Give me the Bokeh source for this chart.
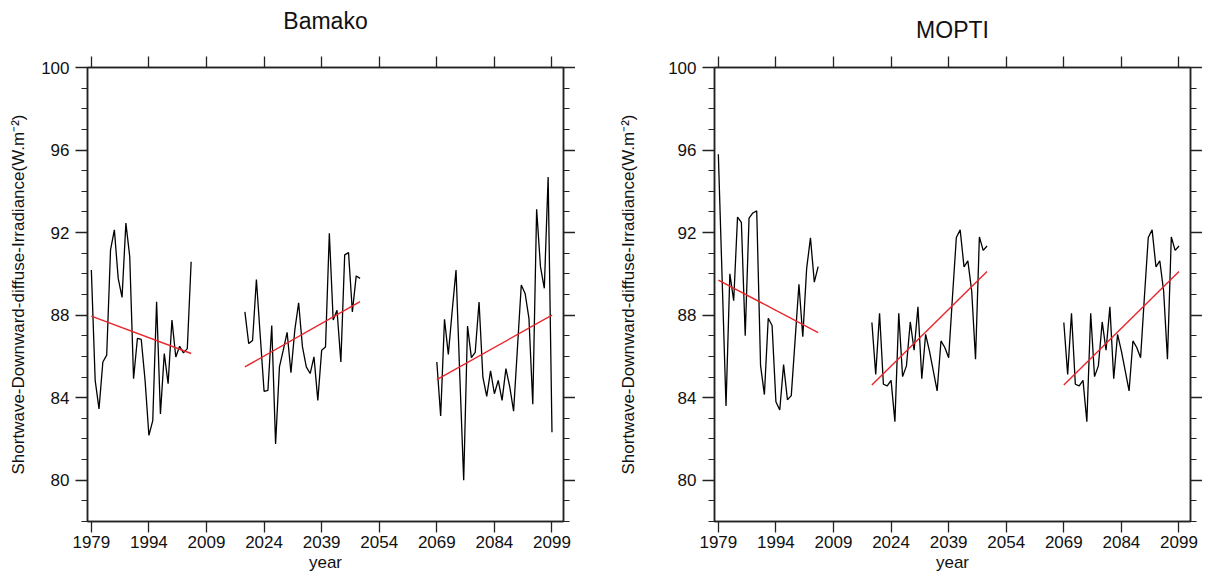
from bokeh.plotting import figure
from bokeh.layouts import row
from bokeh.models import FixedTicker, LinearAxis, Range1d, CustomJSTickFormatter
from bokeh.embed import file_html
from bokeh.resources import INLINE

# ---------------- data ----------------
years_hist = list(range(1979, 2006))
years_mid = list(range(2019, 2050))
years_fut = list(range(2069, 2100))

bamako_hist = [90.19, 84.84, 83.46, 85.73, 86.06, 91.16, 92.13, 89.78, 88.86, 92.46,
               90.84, 84.92, 86.87, 86.82, 84.84, 82.17, 82.89, 88.65, 83.21, 86.14,
               84.68, 87.76, 85.97, 86.49, 86.17, 86.38, 90.59]
bamako_mid = [88.16, 86.62, 86.77, 89.73, 87.0, 84.31, 84.36, 87.5, 81.76, 85.49,
              86.3, 87.17, 85.21, 87.27, 88.6, 86.46, 85.49, 85.17, 85.98, 83.87,
              86.3, 86.46, 91.97, 87.76, 88.24, 85.73, 90.92, 91.03, 88.16, 89.9, 89.78]
bamako_fut = [85.73, 83.11, 87.8, 86.1, 88.2, 90.19, 85.0, 80.0, 87.47, 85.94,
              86.2, 88.64, 85.0, 84.06, 85.3, 84.19, 84.84, 83.87, 85.41, 84.52,
              83.35, 86.4, 89.46, 89.05, 87.84, 83.68, 93.13, 90.35, 89.3, 94.69, 82.33]

mopti_hist = [95.8, 89.7, 83.6, 90.0, 88.7, 92.75, 92.5, 87.0, 92.7, 92.95,
              93.05, 85.55, 84.15, 87.85, 87.5, 83.8, 83.4, 85.6, 83.9, 84.1,
              86.8, 89.5, 86.95, 90.25, 91.75, 89.6, 90.35]
mopti_mid = [87.64, 85.13, 88.09, 84.65, 84.57, 84.84, 82.84, 88.09, 85.02, 85.54,
             87.67, 86.3, 88.4, 84.92, 87.07, 86.26, 85.3, 84.33, 86.75, 86.43,
             85.94, 88.9, 91.76, 92.13, 90.34, 90.63, 89.17, 85.86, 91.79, 91.14, 91.35]
mopti_fut = [87.64, 85.13, 88.09, 84.65, 84.57, 84.84, 82.84, 88.09, 85.02, 85.54,
             87.67, 86.3, 88.4, 84.92, 87.07, 86.26, 85.3, 84.33, 86.75, 86.43,
             85.94, 88.9, 91.76, 92.13, 90.34, 90.63, 89.17, 85.86, 91.79, 91.14, 91.35]

# linear trend end values (first year, last year) of each period
bamako_trend_hist = [87.95, 86.14]
bamako_trend_mid = [85.49, 88.65]
bamako_trend_fut = [84.87, 88.0]
mopti_trend_hist = [89.7, 87.15]
mopti_trend_mid = [84.62, 90.11]
mopti_trend_fut = [84.62, 90.11]

x_ticks = [1979, 1994, 2009, 2024, 2039, 2054, 2069, 2084, 2099]
y_ticks = [80, 84, 88, 92, 96, 100]
y_minor = list(range(78, 101))

titles = ["Bamako", "MOPTI"]
y_label = "Shortwave-Downward-diffuse-Irradiance(W.m\u207b\u00b2)"
x_label = "year"

FONT = "Liberation Sans"
AX = "#222222"
X_MIN, X_MAX, Y_MIN, Y_MAX = 1978, 2102, 78, 100


def style_axis(ax, is_x, labels=True):
    ax.axis_line_color = AX
    ax.axis_line_width = 1.5
    ax.major_tick_line_color = AX
    ax.major_tick_line_width = 1.3
    ax.major_tick_in = 0
    ax.major_tick_out = 11 if is_x else 12
    if is_x:
        ax.minor_tick_line_color = None
        ax.minor_tick_out = 0
    else:
        ax.minor_tick_line_color = AX
        ax.minor_tick_line_width = 1.2
        ax.minor_tick_in = 0
        ax.minor_tick_out = 6
    ax.major_label_text_font = FONT
    ax.major_label_text_font_size = "17px"
    ax.major_label_text_color = "#111111"
    ax.axis_label_text_font = FONT
    ax.axis_label_text_font_size = "17px"
    ax.axis_label_text_font_style = "normal"
    ax.axis_label_text_color = "#111111"
    if not labels:
        ax.formatter = CustomJSTickFormatter(code="return ''")
        ax.major_label_standoff = 0
        ax.major_label_text_font_size = "1px"


def make_panel(title, hist, mid, fut, t_hist, t_mid, t_fut,
               b_left, b_right, b_top, title_standoff, ylab_standoff):
    p = figure(frame_width=476, frame_height=454,
               x_range=Range1d(X_MIN, X_MAX), y_range=Range1d(Y_MIN, Y_MAX),
               output_backend="svg", toolbar_location=None,
               min_border_left=b_left, min_border_right=b_right,
               min_border_top=b_top, min_border_bottom=53,
               background_fill_color="white", border_fill_color="white")
    p.xgrid.visible = False
    p.ygrid.visible = False
    p.outline_line_color = AX
    p.outline_line_width = 1.5

    p.xaxis.ticker = FixedTicker(ticks=x_ticks)
    p.yaxis.ticker = FixedTicker(ticks=y_ticks, minor_ticks=y_minor)
    p.xaxis.axis_label = x_label
    p.yaxis.axis_label = y_label
    for ax in p.xaxis:
        style_axis(ax, True)
        ax.major_label_standoff = 3
        ax.axis_label_standoff = 2
    for ax in p.yaxis:
        style_axis(ax, False)
        ax.major_label_standoff = 6
        ax.axis_label_standoff = ylab_standoff

    # top axis: ticks only, carries the panel title as its label
    top = LinearAxis(ticker=FixedTicker(ticks=x_ticks))
    style_axis(top, True, labels=False)
    top.axis_label = title
    top.axis_label_text_font_size = "23px"
    top.axis_label_standoff = title_standoff
    p.add_layout(top, "above")
    right = LinearAxis(ticker=FixedTicker(ticks=y_ticks, minor_ticks=y_minor))
    style_axis(right, False, labels=False)
    p.add_layout(right, "right")

    for yrs, vals in ((years_hist, hist), (years_mid, mid), (years_fut, fut)):
        p.line(yrs, vals, line_color="black", line_width=1.3)
    for yrs, tv in ((years_hist, t_hist), (years_mid, t_mid), (years_fut, t_fut)):
        p.line([yrs[0], yrs[-1]], tv, line_color="#e8252a", line_width=1.4)
    return p


p1 = make_panel(titles[0], bamako_hist, bamako_mid, bamako_fut,
                bamako_trend_hist, bamako_trend_mid, bamako_trend_fut,
                87, 12, 65, 23, 10)
p2 = make_panel(titles[1], mopti_hist, mopti_mid, mopti_fut,
                mopti_trend_hist, mopti_trend_mid, mopti_trend_fut,
                139, 12, 67, 14, 27)

layout = row(p1, p2)
open("out.html", "w").write(file_html(layout, INLINE))
